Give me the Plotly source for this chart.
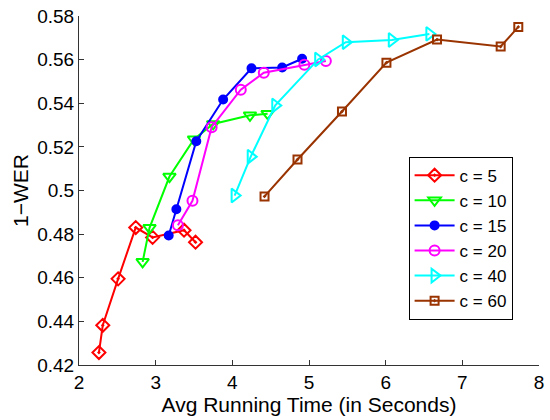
import plotly.graph_objects as go

labels = ["c = 5", "c = 10", "c = 15", "c = 20", "c = 40", "c = 60"]

x_c5 = [2.26, 2.31, 2.51, 2.74, 2.96, 3.37, 3.52]
y_c5 = [0.4257, 0.4382, 0.4595, 0.4830, 0.4785, 0.4818, 0.4763]

x_c10 = [2.83, 2.92, 3.18, 3.50, 3.75, 4.23, 4.46]
y_c10 = [0.4673, 0.4829, 0.5064, 0.5235, 0.5305, 0.5345, 0.5352]

x_c15 = [3.17, 3.27, 3.53, 3.88, 4.25, 4.65, 4.91]
y_c15 = [0.4794, 0.4914, 0.5226, 0.5417, 0.5560, 0.5564, 0.5604]

x_c20 = [3.29, 3.48, 3.73, 4.11, 4.41, 4.94, 5.22]
y_c20 = [0.4841, 0.4953, 0.5290, 0.5462, 0.5540, 0.5576, 0.5594]

x_c40 = [4.03, 4.24, 4.56, 5.12, 5.48, 6.08, 6.57]
y_c40 = [0.4977, 0.5155, 0.5390, 0.5601, 0.5680, 0.5690, 0.5718]

x_c60 = [4.42, 4.85, 5.43, 6.01, 6.67, 7.50, 7.73]
y_c60 = [0.4973, 0.5142, 0.5362, 0.5586, 0.5692, 0.5660, 0.5750]

xs = [x_c5, x_c10, x_c15, x_c20, x_c40, x_c60]
ys = [y_c5, y_c10, y_c15, y_c20, y_c40, y_c60]
colors = ["#FF0000", "#00FF00", "#0000FF", "#FF00FF", "#00FFFF", "#993300"]
symbols = ["diamond-open-dot", "triangle-down-open", "circle", "circle-open",
           "triangle-right-open", "square-open-dot"]
sizes = [10, 11, 8, 10, 12, 8]

x_ticks = [2, 3, 4, 5, 6, 7, 8]
y_ticks = [0.42, 0.44, 0.46, 0.48, 0.5, 0.52, 0.54, 0.56, 0.58]
y_ticktext = ["0.42", "0.44", "0.46", "0.48", "0.5", "0.52", "0.54", "0.56", "0.58"]

fig = go.Figure()
for lab, x, y, c, s, sz in zip(labels, xs, ys, colors, symbols, sizes):
    fig.add_trace(go.Scatter(
        x=x, y=y, mode="lines+markers", name=lab,
        line=dict(color=c, width=2),
        marker=dict(symbol=s, size=sz, color=c, line=dict(color=c, width=2)),
    ))

font_family = "Liberation Sans, Arial, sans-serif"
fig.update_layout(
    width=550, height=420,
    margin=dict(l=79, r=6, t=13, b=55),
    plot_bgcolor="white", paper_bgcolor="white",
    font=dict(family=font_family, size=19, color="black"),
    showlegend=True,
    legend=dict(
        x=0.7165, y=0.597, xanchor="left", yanchor="top",
        bordercolor="black", borderwidth=1, bgcolor="white",
        font=dict(size=17), tracegroupgap=0, itemwidth=40,
    ),
    xaxis=dict(
        range=[2, 8], tickvals=x_ticks, ticks="inside", ticklen=5,
        showgrid=False, zeroline=False, showline=True, linecolor="#333333",
        linewidth=1, tickcolor="#333333", mirror=False,
        title=dict(text="Avg Running Time (in Seconds)", font=dict(size=21), standoff=0),
        tickfont=dict(size=19), ticklabelstandoff=0, ticklabeloverflow="allow",
    ),
    yaxis=dict(
        range=[0.42, 0.58], tickvals=y_ticks, ticktext=y_ticktext,
        ticks="inside", ticklen=5,
        showgrid=False, zeroline=False, showline=True, linecolor="#333333",
        linewidth=1, tickcolor="#333333", mirror=False,
        title=dict(text="1\u2212WER", font=dict(size=21), standoff=2),
        tickfont=dict(size=19), ticklabeloverflow="allow",
    ),
)

fig.write_html("out.html")
